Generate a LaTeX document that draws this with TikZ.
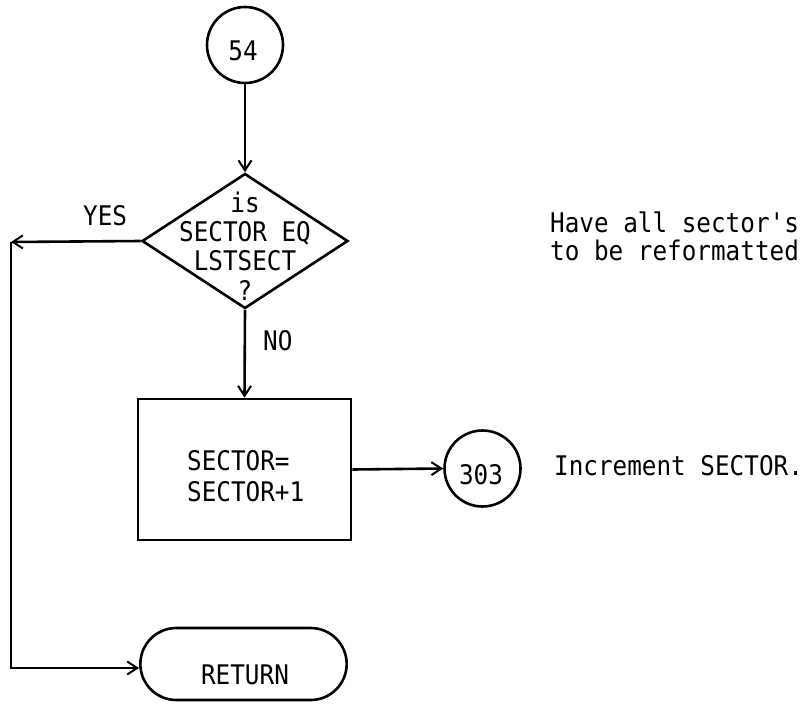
\documentclass[tikz,border=0pt]{standalone}
\usepackage{fontspec}
\setmainfont{DejaVu Sans Mono}[FakeStretch=0.9,Ligatures=TeXOff]
\usetikzlibrary{shapes.geometric,shapes.misc,arrows.meta}
\begin{document}
\begin{tikzpicture}[x=1pt,y=-1pt,
  every node/.style={font=\fontsize{27}{29.3}\selectfont},
  conn/.style={draw, circle, line width=2.6pt, minimum size=76pt, inner sep=0pt},
  dec/.style={draw, diamond, line width=2.6pt, minimum width=206pt, minimum height=135pt, inner sep=0pt},
  proc/.style={draw, rectangle, line width=2.6pt, minimum width=213pt, minimum height=141pt},
  term/.style={draw, rounded rectangle, line width=2.6pt, minimum width=213pt, minimum height=72pt},
  flow/.style={line width=2.6pt, -{Straight Barb[length=10pt,width=13pt,line width=2pt]}},
  lbl/.style={inner sep=0pt}
]
\useasboundingbox (0,0) rectangle (808,704);
\fill[white] (0,0) rectangle (808,704);
\node[conn] (c54) at (245,45) {};
\node[lbl] (t54) at (243,51) {54};
\node[dec] (d) at (245,241) {};
\node[lbl, align=center] (dt) at (245,246) {is\\SECTOR EQ\\LSTSECT\\?};
\node[lbl, anchor=base west] (yes) at (83,225) {YES};
\node[lbl, anchor=base west] (no) at (263,350) {NO};
\node[proc] (p) at (244.5,469.5) {};
\node[lbl, align=left, anchor=west, font=\fontsize{27}{31}\selectfont] (pt) at (187,476.5) {SECTOR=\\SECTOR+1};
\node[conn] (c303) at (482.5,468.5) {};
\node[lbl] (t303) at (481,475) {303};
\node[lbl, anchor=base west] (inc) at (554,475) {Increment SECTOR.};
\node[lbl, anchor=west, align=left, font=\fontsize{27}{28}\selectfont] (have) at (550,236) {Have all sector's\\to be reformatted};
\node[term] (ret) at (243.5,664) {};
\node[lbl] (rt) at (245,675) {RETURN};
\coordinate (corner) at (11,242);
\draw[flow] (c54) -- (d.north);
\draw[flow] (d.west) -- (corner);
\draw[flow] (corner) |- ([yshift=-4pt]ret.west);
\draw[flow] (d.south) -- (p.north);
\draw[flow] (p.east) -- (c303.west);
\end{tikzpicture}
\end{document}
